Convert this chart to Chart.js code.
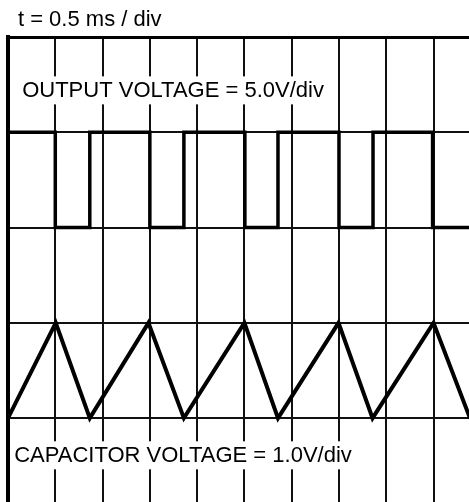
<!DOCTYPE html>
<html>
<head>
<meta charset="utf-8">
<script src="https://cdn.jsdelivr.net/npm/chart.js@4.4.0/dist/chart.umd.min.js"></script>
<style>
  body { margin: 0; background: #fff; }
  canvas { display: block; }
</style>
</head>
<body>
<canvas id="scope" width="469" height="502"></canvas>
<script>
// time axis in divisions (0.5 ms / div), vertical axis in divisions
const squareTimes = [0, 1, 1.73, 3, 3.72, 5.01, 5.71, 7, 7.72, 8.98, 9.75];
const squareLevels = [3, 2, 3, 2, 3, 2, 3, 2, 3, 2, 2];
const triTimes = [0, 1.01, 1.73, 2.97, 3.72, 5, 5.71, 6.99, 7.71, 9, 9.77];
const triLevels = [0, 1, 0, 1, 0, 1, 0, 1, 0, 1, 0];
const xGridLines = [1, 2, 3, 4, 5, 6, 7, 8, 9];
const yGridLines = [0, 1, 2, 3];

const timeBaseText = 't = 0.5 ms / div';
const traceLabels = [
  { text: 'OUTPUT VOLTAGE = 5.0V/div', x: 0.30, y: 3.44 },
  { text: 'CAPACITOR VOLTAGE = 1.0V/div', x: 0.13, y: -0.39 }
];

const FONT = '22px "Liberation Sans", Arial, sans-serif';

//draws labels with white boxes so the grid is broken behind them
const labelPlugin = {
  id: 'scopeLabels',
  afterDatasetsDraw(chart) {
    const ctx = chart.ctx;
    const xs = chart.scales.x, ys = chart.scales.y;
    ctx.save();
    ctx.font = FONT;
    ctx.textBaseline = 'middle';
    ctx.textAlign = 'left';
    traceLabels.forEach(l => {
      const px = xs.getPixelForValue(l.x);
      const py = ys.getPixelForValue(l.y);
      const w = ctx.measureText(l.text).width;
      ctx.fillStyle = '#fff';
      ctx.fillRect(px - 4, py - 14, w + 8, 28);
      ctx.fillStyle = '#000';
      ctx.fillText(l.text, px, py + 1);
    });
    ctx.fillStyle = '#000';
    ctx.fillText(timeBaseText, xs.getPixelForValue(0.21), chart.chartArea.top - 17);
    ctx.restore();
  }
};

const toPoints = (ts, vs) => ts.map((t, i) => ({ x: t, y: vs[i] }));

new Chart(document.getElementById('scope'), {
  type: 'line',
  data: {
    datasets: [
      {
        data: toPoints(squareTimes, squareLevels),
        stepped: true,
        borderColor: '#000',
        borderWidth: 3.5,
        pointRadius: 0,
        fill: false
      },
      {
        data: toPoints(triTimes, triLevels),
        borderColor: '#000',
        borderWidth: 4,
        pointRadius: 0,
        tension: 0,
        fill: false
      }
    ]
  },
  options: {
    responsive: false,
    animation: false,
    layout: { padding: { left: 8, top: 37, right: 0, bottom: 0 } },
    plugins: { legend: { display: false }, tooltip: { enabled: false } },
    scales: {
      x: {
        type: 'linear', position: 'top', min: 0, max: 9.75,
        ticks: { display: false },
        grid: { color: '#111', lineWidth: 2, drawTicks: false },
        border: { display: true, color: '#000', width: 3 },
        afterBuildTicks: s => { s.ticks = xGridLines.map(v => ({ value: v })); }
      },
      y: {
        type: 'linear', min: -0.88, max: 4,
        ticks: { display: false },
        grid: { color: '#111', lineWidth: 2, drawTicks: false },
        border: { display: true, color: '#000', width: 4 },
        afterBuildTicks: s => { s.ticks = yGridLines.map(v => ({ value: v })); }
      }
    }
  },
  plugins: [labelPlugin]
});
</script>
</body>
</html>
